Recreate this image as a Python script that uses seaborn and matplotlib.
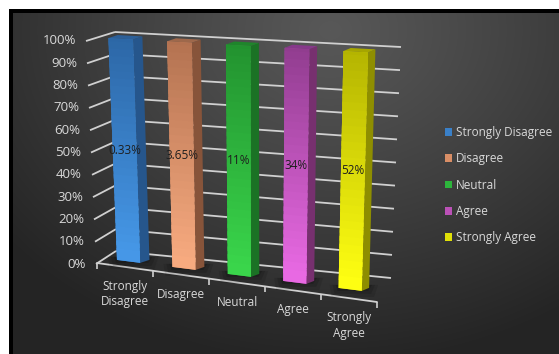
import numpy as np
import pandas as pd
import seaborn as sns
import matplotlib
matplotlib.use("Agg")
import matplotlib.pyplot as plt
from matplotlib.transforms import Transform, Affine2D, IdentityTransform
from matplotlib.patches import Polygon, Patch
from matplotlib.colors import to_rgb

# ---------------- data ----------------
categories = ["Strongly Disagree", "Disagree", "Neutral", "Agree", "Strongly Agree"]
tick_labels = ["Strongly\nDisagree", "Disagree", "Neutral", "Agree", "Strongly\nAgree"]
bar_heights = [100, 100, 100, 100, 100]
value_labels = ["0.33%", "3.65%", "11%", "34%", "52%"]
y_ticks = [0, 10, 20, 30, 40, 50, 60, 70, 80, 90, 100]
y_tick_labels = ["0%", "10%", "20%", "30%", "40%", "50%", "60%", "70%", "80%", "90%", "100%"]

# ---------------- style ----------------
front_colors = ["#3a80c8", "#d98e66", "#2db53c", "#bb51b7", "#e0e008"]
bottom_colors = ["#4698e8", "#f8ab80", "#3ad64b", "#ea6ae4", "#ffff12"]
top_colors_f = ["#2c66a5", "#b27150", "#22912f", "#8f3c8e", "#b3b300"]
side_colors = ["#26568c", "#87543a", "#1b7225", "#77306f", "#8e8e00"]
top_colors = ["#2c5f98", "#9e684b", "#1f852b", "#86398a", "#a6a600"]
text_color = "#d9d9d9"
grid_color = "#d0d0d0"
FONT = ["Open Sans", "DejaVu Sans"]

W, H = 559, 354

sns.set_theme(style="white")
plt.rcParams["font.family"] = FONT


class Quad(Transform):
    """Bilinear map of the unit square onto a quadrilateral (pixel coords)."""
    input_dims = 2
    output_dims = 2
    is_separable = False

    def __init__(self, bl, br, tl, tr):
        super().__init__()
        self.c = [np.array([p[0], H - p[1]], float) for p in (bl, br, tl, tr)]

    def transform_non_affine(self, values):
        v = np.asarray(values, float).reshape(-1, 2)
        a = v[:, :1]
        b = v[:, 1:2]
        bl, br, tl, tr = self.c
        return (1 - a) * (1 - b) * bl + a * (1 - b) * br + (1 - a) * b * tl + a * b * tr


fig = plt.figure(figsize=(W / 100, H / 100), dpi=100, facecolor="#2a2a2a")

# background: radial dark gradient, white margin and black frame (top/left)
yy, xx = np.mgrid[0:H, 0:W]
d = np.hypot((xx - 330) / 1.0, (yy - 30) * 1.25)
t = np.clip(d / 420, 0, 1) ** 1.1
c0 = np.array([0x58, 0x58, 0x58]) / 255
c1 = np.array([0x24, 0x24, 0x24]) / 255
img = c0[None, None, :] * (1 - t[..., None]) + c1[None, None, :] * t[..., None]
img[9:13, 9:, :] = 0.0
img[9:, 9:13, :] = 0.0
img[:9, :, :] = 1.0
img[:, :9, :] = 1.0
fig.figimage(img, xo=0, yo=0, origin="upper", zorder=-10)

# the quad transforms map axes-fraction coords straight to pixels
ax = fig.add_axes([0, 0, 1, 1])
ax.patch.set_visible(False)

df = pd.DataFrame({"category": categories, "value": bar_heights})
sns.barplot(data=df, x="category", y="value", hue="category", palette=front_colors,
            width=0.42, saturation=1, legend=False, ax=ax, zorder=3)
ax.set_xlim(-0.5, len(categories) - 0.5)
ax.set_ylim(0, 100)
ax.axis("off")

to_unit = ax.transScale + ax.transLimits
front_T = to_unit + Quad((100.9, 257.9), (377.9, 292.9), (91.4, 37.1), (385.2, 53.3))
back_T = to_unit + Quad((116, 251), (391, 278), (115, 32), (401, 47))
side_T = to_unit + Quad((96, 264), (116, 251), (86, 41), (115, 32))
floor_T = to_unit + Quad((97, 263), (377, 302), (116, 251), (391, 278))

x0_all, x1_all = ax.get_xlim()

# gridlines on back and side walls
for tk in y_ticks:
    ax.plot([x0_all, x1_all], [tk, tk], color=grid_color, lw=1.3, transform=back_T,
            zorder=1, solid_capstyle="butt", clip_on=False)
    ax.plot([x0_all, x1_all], [tk, tk], color=grid_color, lw=1.3, transform=side_T,
            zorder=1, solid_capstyle="butt", clip_on=False)

# floor front edge with tick marks
ax.plot([x0_all, x1_all], [0, 0], color=grid_color, lw=1.3, transform=floor_T, zorder=2,
        clip_on=False)
bounds = [x0_all] + [i + 0.5 for i in range(len(categories))]
ax.plot(bounds, [0] * len(bounds), linestyle="none", marker=3, markersize=4,
        markeredgewidth=1.2, color=grid_color, transform=floor_T, zorder=2, clip_on=False)

# y tick labels
for tk, lab in zip(y_ticks, y_tick_labels):
    ax.text(x0_all, tk, lab, transform=side_T + Affine2D().translate(-10, 0),
            ha="right", va="center", color=text_color, fontsize=9.5, clip_on=False)

# category labels
for i, lab in enumerate(tick_labels):
    ax.text(i, 0, lab, transform=floor_T + Affine2D().translate(0, -13),
            ha="center", va="top", color=text_color, fontsize=8.5, linespacing=1.25,
            clip_on=False)

# 3D bars: front face from seaborn, side & top faces derived from it
ident = IdentityTransform()
bars = list(ax.patches)
for i, p in enumerate(bars):
    p.set_transform(front_T)
    p.set_edgecolor("none")
    p.set_zorder(3)
    p.set_clip_on(False)
    bx0 = p.get_x()
    bx1 = bx0 + p.get_width()
    h = p.get_height()
    u = (p.get_x() + p.get_width() / 2 - x0_all) / (x1_all - x0_all)
    dvec = np.array([9.5 - 2.5 * u, 3.0])
    fb0, fb1, ft1, ft0 = front_T.transform([(bx0, 0), (bx1, 0), (bx1, h), (bx0, h)])
    # floor shadow
    for k, a in [(9, 0.10), (6, 0.12), (3, 0.16)]:
        sh = [fb0 + np.array([-k, 3]), fb1 + dvec + np.array([k, 3]),
              fb1 + dvec + np.array([k - 4, -k]), fb0 + np.array([-k + 2, -k])]
        ax.add_artist(Polygon(sh, closed=True, facecolor="black", edgecolor="none",
                              alpha=a, transform=ident, zorder=2.5, clip_on=False))
    ax.add_artist(Polygon([fb1, ft1, ft1 + dvec, fb1 + dvec], closed=True,
                          facecolor=side_colors[i], edgecolor="none",
                          transform=ident, zorder=3, clip_on=False))
    ax.add_artist(Polygon([ft0, ft1, ft1 + dvec, ft0 + dvec], closed=True,
                          facecolor=top_colors[i], edgecolor="none",
                          transform=ident, zorder=3, clip_on=False))
    # vertical shading (opaque overlapping strips): light bottom -> dark top
    cb = np.array(to_rgb(bottom_colors[i]))
    ct = np.array(to_rgb(top_colors_f[i]))
    n = 30
    for k in range(n):
        ya = h * k / n
        yb = min(h, h * (k + 1.6) / n)
        f = (k + 0.5) / n
        col = cb * (1 - f) + ct * f
        ax.add_artist(Polygon([(bx0, ya), (bx1, ya), (bx1, yb), (bx0, yb)], closed=True,
                              facecolor=col, edgecolor="none", clip_on=False,
                              transform=front_T, zorder=3.1 - k * 0.001))
    ax.text((bx0 + bx1) / 2, h / 2, value_labels[i], transform=front_T,
            ha="center", va="center", color="#1e1e1e", fontsize=8.5, zorder=5,
            clip_on=False)

# legend
handles = [Patch(facecolor=c, edgecolor="none") for c in front_colors]
leg = ax.legend(handles, categories, loc="upper left", frameon=False,
                bbox_to_anchor=(445 / W, 1 - 126 / H), bbox_transform=fig.transFigure,
                fontsize=8.5, handlelength=0.62, handleheight=0.62, handletextpad=0.3,
                labelspacing=1.13, borderpad=0, borderaxespad=0)
for txt in leg.get_texts():
    txt.set_color(text_color)

fig.savefig("out.png", dpi=100, facecolor=fig.get_facecolor(), edgecolor="none")
